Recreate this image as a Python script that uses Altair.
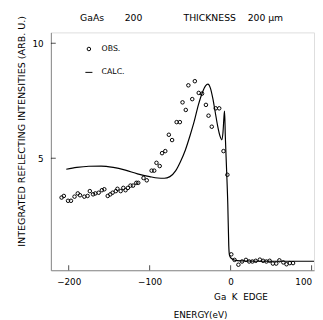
import altair as alt
import pandas as pd

# ---- data ----
obs_energy = [-208.8, -206, -200.8, -197.2, -192.8, -188.8, -186, -180.7, -176.7, -173.9,
              -169.9, -167.1, -163, -159, -156, -151.8, -148.6, -145.8, -141.8, -139.8,
              -135.8, -132.5, -129.8, -126.9, -123.7, -120.5, -116.5, -114.1, -107.6, -103.6,
              -97.6, -94.4, -91.6, -87.6, -84.7, -80.7, -76.3, -72.3, -66.7, -62.7,
              -59.4, -55.4, -52.2, -47.4, -44.2, -39.4, -35.3, -30.5, -27.3, -23.3,
              -18.4, -14.1, -8.8, -4, 0.8, 4.8, 9.6, 14.1, 18.9, 22.9,
              26.9, 31, 36.1, 40.1, 44.2, 48.2, 52.2, 56.3, 60.2, 65.1,
              69, 73.1, 77.1]
obs_intensity = [3.29, 3.36, 3.15, 3.15, 3.33, 3.47, 3.39, 3.33, 3.36, 3.57,
                 3.43, 3.47, 3.5, 3.61, 3.65, 3.36, 3.43, 3.5, 3.57, 3.67,
                 3.57, 3.71, 3.61, 3.71, 3.81, 3.81, 3.93, 3.93, 4.14, 4.04,
                 4.46, 4.46, 4.8, 4.66, 5.22, 5.31, 6.02, 5.79, 6.57, 6.57,
                 7.43, 7.1, 8.17, 7.57, 8.35, 7.84, 7.81, 7.32, 6.85, 6.37,
                 7.17, 7.17, 5.31, 4.28, 0.82, 0.58, 0.37, 0.51, 0.58, 0.51,
                 0.51, 0.54, 0.59, 0.54, 0.51, 0.54, 0.42, 0.42, 0.56, 0.47,
                 0.39, 0.44, 0.44]

calc_energy = [-203, -190, -175, -160, -145, -130, -115, -100, -90, -82,
               -75, -68, -62, -56, -50, -45, -40, -35, -31, -28,
               -25, -22, -19, -16, -13, -11, -9.5, -8, -7.5, -6.5,
               -5, -3.5, -2.3, -1.5, 0, 3, 8, 20, 40, 60, 80, 103]
calc_intensity = [4.52, 4.6, 4.65, 4.66, 4.6, 4.48, 4.32, 4.2, 4.14, 4.13,
                  4.2, 4.45, 4.85, 5.35, 6.0, 6.6, 7.3, 7.85, 8.15, 8.22,
                  8.05, 7.6, 7.0, 6.4, 5.95, 5.8, 6.1, 6.9, 7.05, 5.9,
                  4.5, 3.0, 1.2, 0.8, 0.68, 0.6, 0.55, 0.53, 0.52, 0.52, 0.52, 0.52]

x_ticks = [-200, -100, 0, 100]
y_ticks = [5, 10]
series_names = ["OBS.", "CALC."]

obs = pd.DataFrame({"E": obs_energy, "I": obs_intensity, "series": series_names[0]})
calc = pd.DataFrame({"E": calc_energy, "I": calc_intensity})
xt = pd.DataFrame({"E": x_ticks})
yt = pd.DataFrame({"I": y_ticks})
note = pd.DataFrame({"t": ["Ga\u00a0\u00a0K\u00a0\u00a0EDGE"]})

FONT = "DejaVu Sans"
W, H = 270, 244
NB = "\u00a0"

xs = alt.Scale(domain=[-222, 103], nice=False, zero=False)
ys = alt.Scale(domain=[0.13, 10.47], nice=False, zero=False)

x_axis = alt.Axis(values=x_ticks, format="d", ticks=False, grid=False,
                  labelPadding=8, labelFontSize=9, labelFont=FONT,
                  labelFlush=5, labelFlushOffset=0,
                  title="ENERGY(eV)", titleX=153, titleY=45, titleBaseline="middle",
                  titleFontSize=9, titleFont=FONT, titleFontWeight="normal")
y_axis = alt.Axis(values=y_ticks, format="d", ticks=False, grid=False,
                  labelPadding=8, labelFontSize=9, labelFont=FONT,
                  title="INTEGRATED REFLECTING INTENSITIES (ARB. U.)",
                  titleX=-30, titleY=101, titleBaseline="middle", titleAlign="center",
                  titleFontSize=9.8, titleFont=FONT, titleFontWeight="normal")

X = alt.X("E:Q", scale=xs, axis=x_axis)
Y = alt.Y("I:Q", scale=ys, axis=y_axis)

line = alt.Chart(calc).mark_line(color="black", strokeWidth=1.2, interpolate="monotone").encode(x=X, y=Y)

points = alt.Chart(obs).mark_point(filled=False, color="black", size=13, strokeWidth=1, opacity=1).encode(
    x=X, y=Y,
    shape=alt.Shape("series:N",
                    scale=alt.Scale(domain=series_names, range=["circle", "M-2,0H2"]),
                    legend=alt.Legend(orient="none", legendX=35, legendY=13, title=None,
                                      padding=0, rowPadding=16, labelOffset=9,
                                      symbolSize=13, symbolStrokeColor="black",
                                      symbolFillColor="transparent", symbolStrokeWidth=1,
                                      labelFont=FONT, labelFontSize=8, labelColor="black")),
)

xtick = alt.Chart(xt).mark_tick(color="black", orient="vertical", size=5, thickness=1).encode(
    x=X, y=alt.value(H - 2.5))
ytick = alt.Chart(yt).mark_tick(color="black", orient="horizontal", size=5, thickness=1).encode(
    y=Y, x=alt.value(2.5))

ktext = alt.Chart(note).mark_text(font=FONT, fontSize=9, color="black", align="center",
                                  baseline="middle").encode(
    text="t:N", x=alt.value(195), y=alt.value(272))

title_text = ("GaAs" + NB * 7 + "200" + NB * 14 + "THICKNESS" + NB * 4 + "200" + NB * 1 + "μm")

chart = alt.layer(line, points, xtick, ytick, ktext).properties(
    width=W, height=H,
    autosize=alt.AutoSizeParams(type="none"),
    padding={"left": 44, "top": 21, "right": 1, "bottom": 47},
    title=alt.Title(title_text, anchor="start", frame="group", dx=30, dy=15, offset=8,
                    font=FONT, fontSize=9.5, fontWeight="normal", color="black"),
).configure_view(stroke=None).configure_axis(
    domainColor="black", domainWidth=1, labelColor="black", titleColor="black"
).configure(background="white")

chart.save("out.html", embed_options={"renderer": "svg", "actions": False})
